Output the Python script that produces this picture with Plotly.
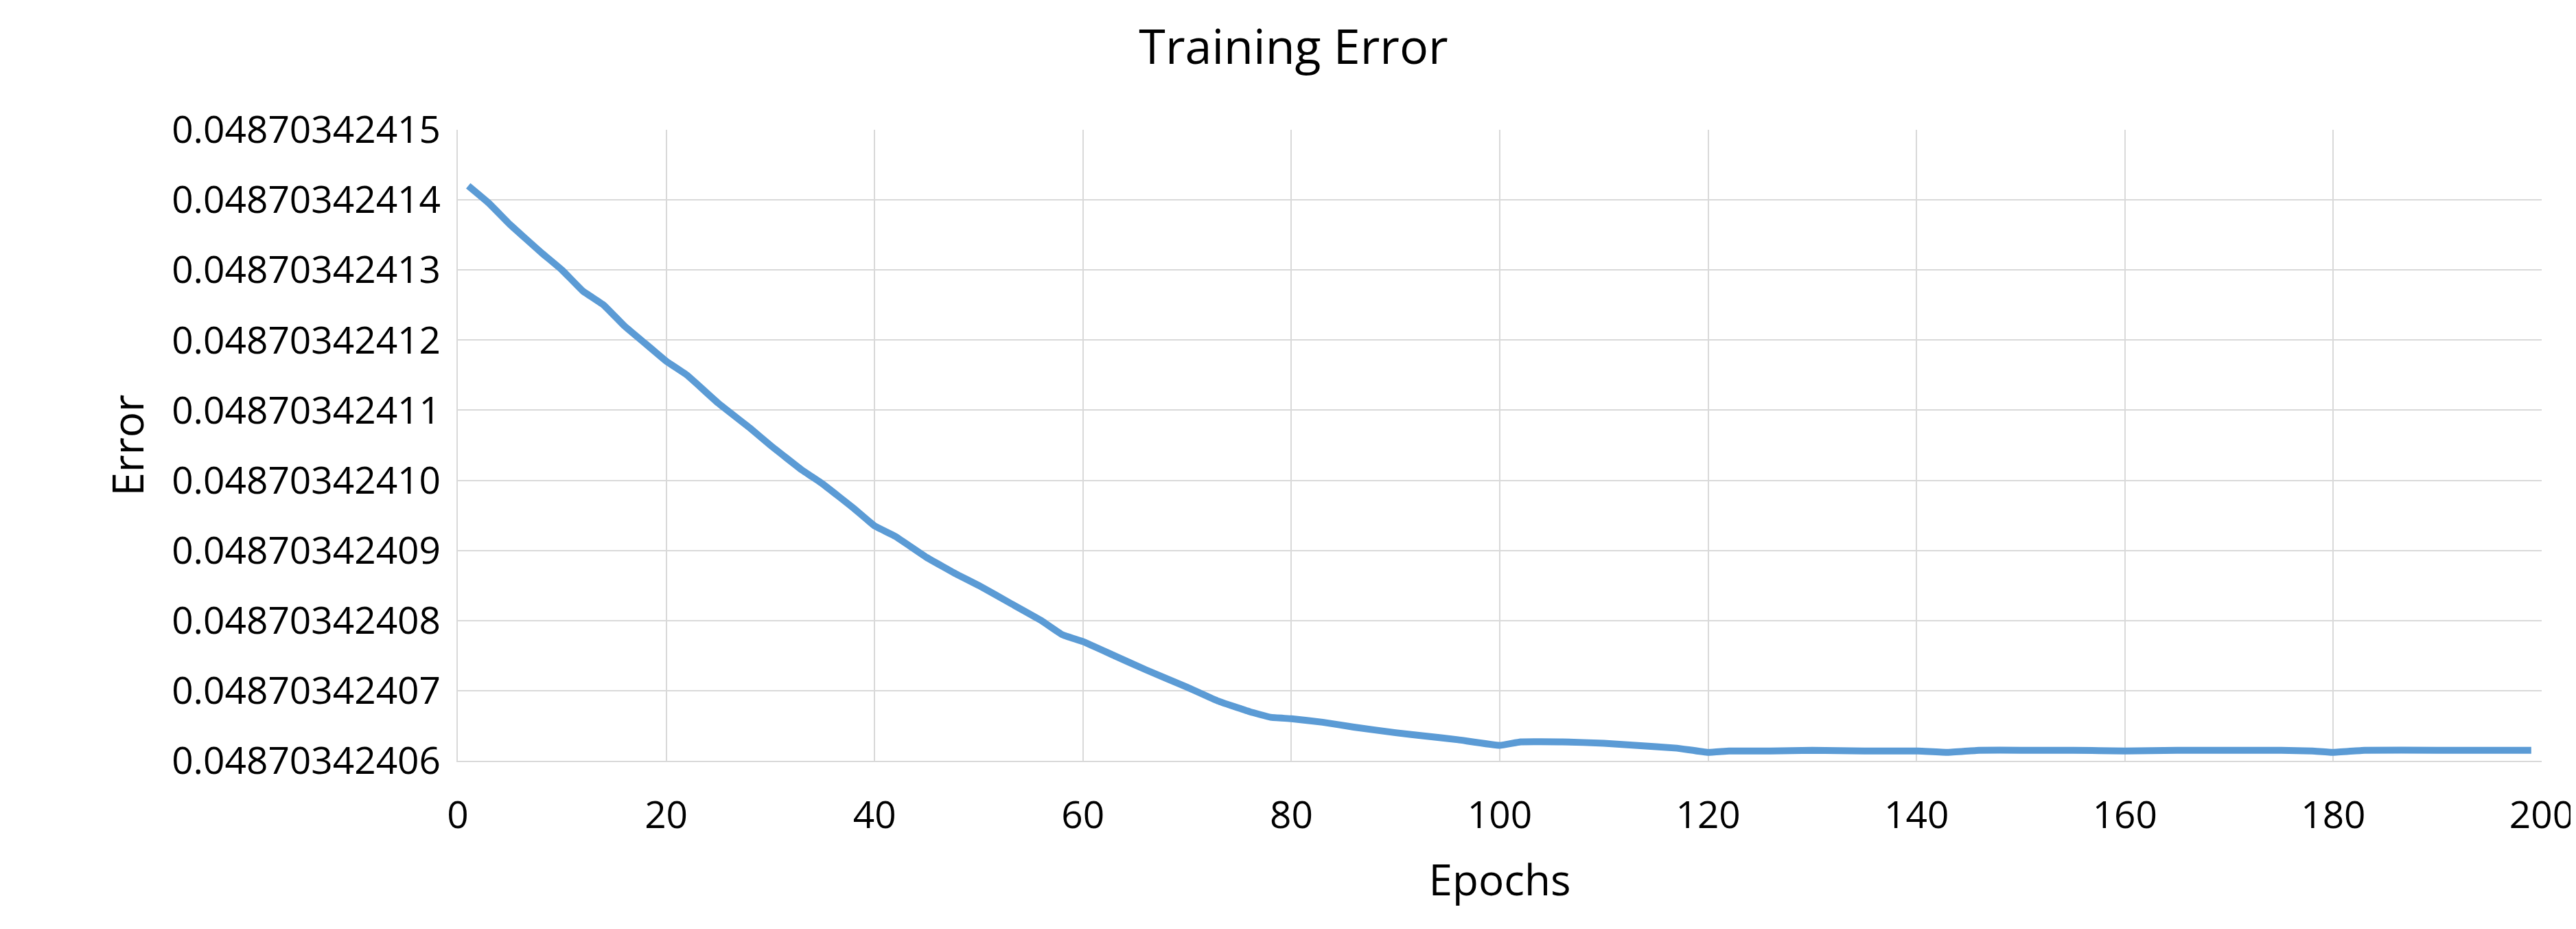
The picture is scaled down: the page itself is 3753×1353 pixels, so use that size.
import numpy as np
import plotly.graph_objects as go

epochs = [1, 3, 5, 8, 10, 12, 14, 16, 18, 20, 22, 25, 28, 30, 33, 35, 38, 40, 42, 45, 48, 50, 53, 56, 58, 60, 63, 66, 70, 73, 76, 78, 80, 83, 86, 90, 93, 96, 100, 102, 106, 110, 113, 117, 120, 122, 126, 130, 135, 140, 143, 146, 150, 155, 160, 165, 170, 175, 178, 180, 183, 190, 199]
# error offset above 0.04870342406, in units of 1e-11
offset = [8.2, 7.95, 7.65, 7.25, 7.0, 6.7, 6.5, 6.2, 5.95, 5.7, 5.5, 5.1, 4.75, 4.5, 4.15, 3.95, 3.6, 3.35, 3.2, 2.9, 2.65, 2.5, 2.25, 2.0, 1.8, 1.7, 1.5, 1.3, 1.05, 0.85, 0.7, 0.62, 0.6, 0.55, 0.48, 0.4, 0.35, 0.3, 0.22, 0.27, 0.27, 0.25, 0.22, 0.18, 0.12, 0.14, 0.14, 0.15, 0.14, 0.14, 0.12, 0.15, 0.15, 0.15, 0.14, 0.15, 0.15, 0.15, 0.14, 0.12, 0.15, 0.15, 0.15]
base = 0.04870342406
error = [base + o * 1e-11 for o in offset]
yticks = [base + i * 1e-11 for i in range(10)]
ytext = [f"{v:.11f}" for v in yticks]

fig = go.Figure(go.Scatter(x=epochs, y=error, mode="lines",
                           line=dict(color="#5B9BD5", width=10, shape="spline", smoothing=0.3)))
font = "Open Sans"
fig.update_layout(
    width=3753, height=1353, plot_bgcolor="white", paper_bgcolor="white",
    margin=dict(l=659, r=58, t=181, b=253),
    title=dict(text="Training Error", x=0.5, xanchor="center", y=0.955, yanchor="middle",
               font=dict(family=font, size=70, color="#000")),
    showlegend=False,
    font=dict(family=font, color="#000"),
)
fig.update_xaxes(range=[0, 200], dtick=20, showgrid=True, gridcolor="#D9D9D9", gridwidth=2,
                 showline=True, linecolor="#D9D9D9", linewidth=2, mirror=False, zeroline=False,
                 tickfont=dict(size=55), ticks="", ticklabelstandoff=30,
                 title=dict(text="Epochs", font=dict(size=62), standoff=40))
fig.update_yaxes(range=[yticks[0], yticks[-1]], tickvals=yticks, ticktext=ytext,
                 showgrid=True, gridcolor="#D9D9D9", gridwidth=2, zeroline=False,
                 showline=True, linecolor="#D9D9D9", linewidth=2,
                 tickfont=dict(size=55), ticks="", ticklabelstandoff=12,
                 title=dict(text="Error", font=dict(size=62), standoff=20))
fig.write_html("out.html")
